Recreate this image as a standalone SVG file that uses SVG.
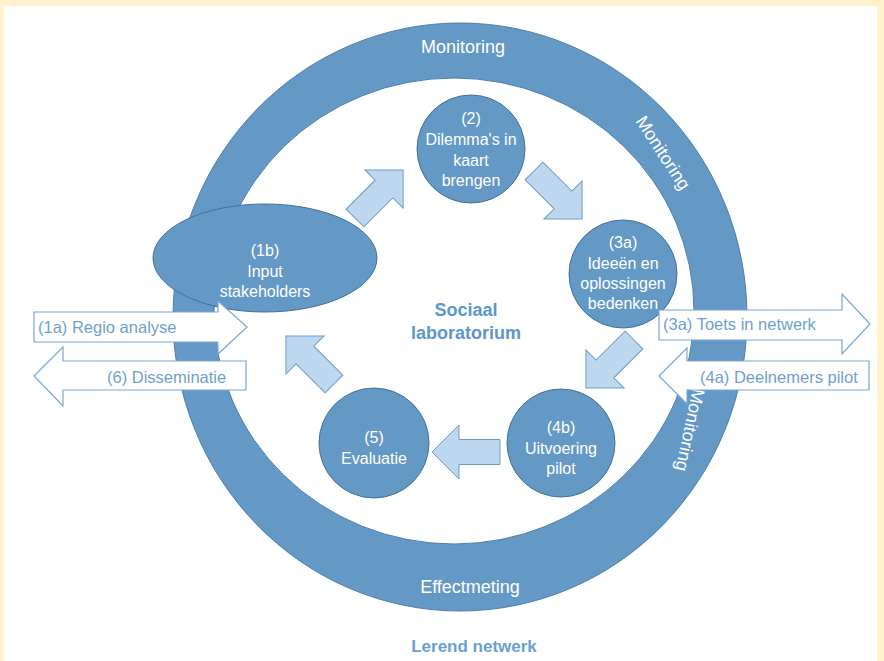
<svg xmlns="http://www.w3.org/2000/svg" xmlns:xlink="http://www.w3.org/1999/xlink" width="884" height="661" viewBox="0 0 884 661">
<style>
.ring{fill:#6499C6;stroke:#4A7DAE;stroke-width:1;fill-rule:evenodd}
.node{fill:#6499C6;stroke:#41719C;stroke-width:1}
.ntxt{font-family:"Liberation Sans",Arial,sans-serif;font-size:16px;fill:#FFFFFF;text-anchor:middle}
.rtxt{font-family:"Liberation Sans",Arial,sans-serif;font-size:18px;fill:#FFFFFF;text-anchor:middle}
.barrow{fill:#BDD7EE;stroke:#6D9DC5;stroke-width:1}
.sarrow{fill:#FFFFFF;stroke:#7AA6D4;stroke-width:1.2}
.stxt{font-family:"Liberation Sans",Arial,sans-serif;font-size:16.5px;fill:#6F9FD0}
.btxt{font-family:"Liberation Sans",Arial,sans-serif;font-size:18px;font-weight:bold;fill:#5E97CB;text-anchor:middle}
</style>
<defs>
<polygon id="ba" points="0,-12.5 41,-12.5 41,-27 68,0 41,27 41,12.5 0,12.5"/>
</defs>
<rect x="0" y="0" width="884" height="661" fill="#FFF2CC"/>
<rect x="4" y="6" width="873" height="655" fill="#FFFFFF"/>

<g id="ring">
<path class="ring" d="M173,317 a287,294 0 1,0 574,0 a287,294 0 1,0 -574,0 Z M214,311 a240,233 0 1,0 480,0 a240,233 0 1,0 -480,0 Z"/>
<text class="rtxt" x="463" y="53">Monitoring</text>
<text class="rtxt" transform="translate(663,153) rotate(57)" x="0" y="6">Monitoring</text>
<text class="rtxt" transform="translate(690,430) rotate(102)" x="0" y="6">Monitoring</text>
<text class="rtxt" x="470" y="593">Effectmeting</text>
</g>

<g id="n1b">
<ellipse class="node" cx="265" cy="258" rx="112" ry="54"/>
<text class="ntxt" x="265" y="256">(1b)</text>
<text class="ntxt" x="265" y="277">Input</text>
<text class="ntxt" x="265" y="297">stakeholders</text>
</g>
<g id="n2">
<circle class="node" cx="471" cy="149" r="54"/>
<text class="ntxt" x="471" y="124">(2)</text>
<text class="ntxt" x="471" y="145">Dilemma's in</text>
<text class="ntxt" x="471" y="166">kaart</text>
<text class="ntxt" x="471" y="186">brengen</text>
</g>
<g id="n3a">
<circle class="node" cx="623" cy="274" r="54"/>
<text class="ntxt" x="623" y="248">(3a)</text>
<text class="ntxt" x="623" y="269">Ideeën en</text>
<text class="ntxt" x="623" y="289">oplossingen</text>
<text class="ntxt" x="623" y="309">bedenken</text>
</g>
<g id="n4b">
<circle class="node" cx="561" cy="443" r="54"/>
<text class="ntxt" x="561" y="433">(4b)</text>
<text class="ntxt" x="561" y="454">Uitvoering</text>
<text class="ntxt" x="561" y="474">pilot</text>
</g>
<g id="n5">
<circle class="node" cx="374" cy="443" r="55"/>
<text class="ntxt" x="374" y="443">(5)</text>
<text class="ntxt" x="374" y="464">Evaluatie</text>
</g>

<g id="center">
<text class="btxt" x="466" y="316">Sociaal</text>
<text class="btxt" x="466" y="339">laboratorium</text>
</g>

<g id="connectors">
<use xlink:href="#ba" class="barrow" transform="translate(355,218) rotate(-45)"/>
<use xlink:href="#ba" class="barrow" transform="translate(534,171) rotate(45)"/>
<use xlink:href="#ba" class="barrow" transform="translate(634,340) rotate(135)"/>
<use xlink:href="#ba" class="barrow" transform="translate(500,452) rotate(180)"/>
<use xlink:href="#ba" class="barrow" transform="translate(334,384) rotate(-135)"/>
</g>

<g id="a1a">
<polygon class="sarrow" points="34,312 218,312 218,301 247,327 218,354 218,342 34,342"/>
<text class="stxt" x="38" y="333">(1a) Regio analyse</text>
</g>
<g id="a6">
<polygon class="sarrow" points="34,376 63,347 63,361 246,361 246,390 63,390 63,406"/>
<text class="stxt" x="107" y="383">(6) Disseminatie</text>
</g>
<g id="a3a">
<polygon class="sarrow" points="659,310 842,310 842,294 870,324 842,354 842,340 659,340"/>
<text class="stxt" x="663" y="330">(3a) Toets in netwerk</text>
</g>
<g id="a4a">
<polygon class="sarrow" points="659,376 687,348 687,361 869,361 869,390 687,390 687,404"/>
<text class="stxt" x="700" y="383">(4a) Deelnemers pilot</text>
</g>

<g id="footer">
<text class="btxt" x="474" y="652" style="font-size:17px;fill:#6A9FD4">Lerend netwerk</text>
</g>
</svg>
